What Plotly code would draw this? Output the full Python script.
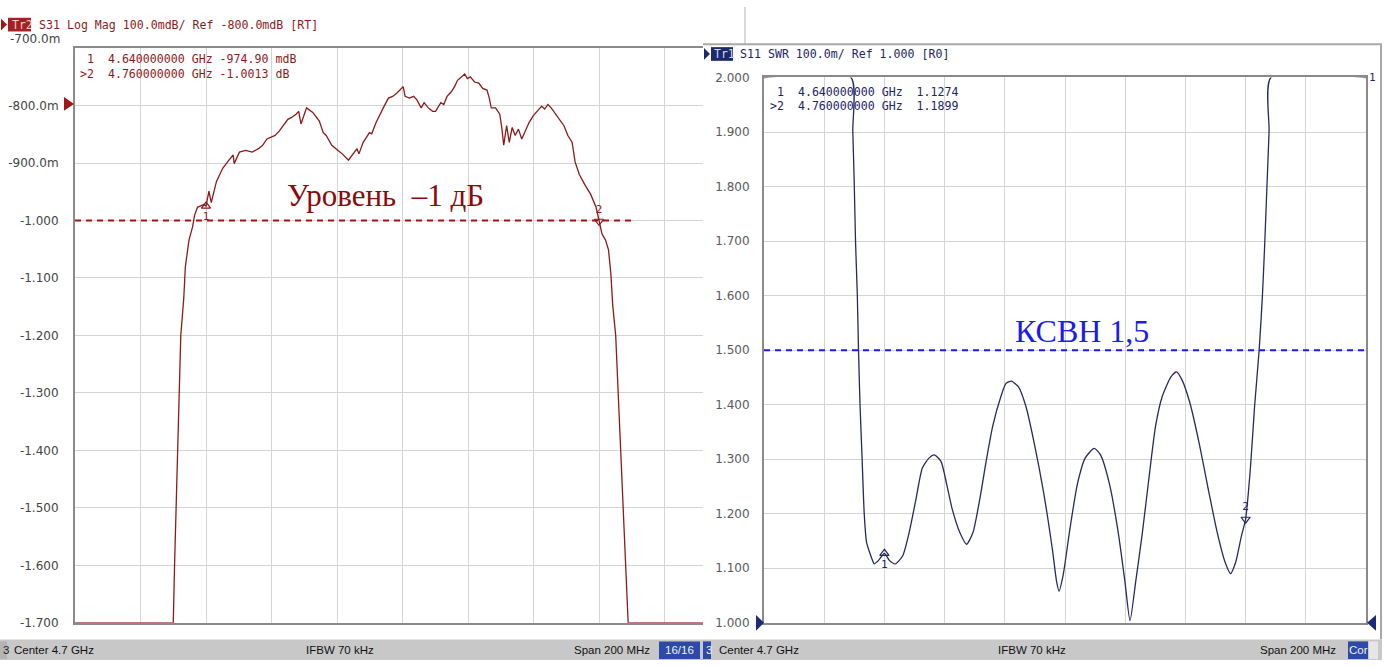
import plotly.graph_objects as go

# ---------------- data ----------------
# S31 transmission, Log Mag (dB) vs frequency (MHz)
s31_freq_mhz = [
    4600.0, 4630.0, 4630.4, 4630.9, 4631.3, 4631.8, 4632.3, 4633.2, 4633.7,
    4634.8, 4635.9, 4636.5, 4637.4, 4639.3, 4640.0, 4640.9, 4641.6, 4643.2, 4645.1,
    4647.0, 4648.3, 4648.6, 4650.2, 4652.1, 4654.1, 4656.0, 4657.3, 4658.6, 4661.1,
    4662.4, 4663.7, 4665.0, 4666.0, 4667.5, 4668.3, 4669.0, 4670.7, 4672.6, 4674.6,
    4675.8, 4676.7, 4678.4, 4680.3, 4681.6, 4683.5, 4685.5, 4686.1, 4686.7, 4688.0,
    4689.9, 4690.6, 4691.9, 4693.1, 4694.4, 4695.7, 4697.0, 4698.3, 4699.3, 4700.2,
    4700.8, 4702.1, 4703.4, 4704.4, 4705.7, 4706.6, 4707.9, 4709.2, 4710.1, 4711.7,
    4712.6, 4713.6, 4714.9, 4715.9, 4716.8, 4718.1, 4719.0, 4719.8, 4720.7, 4722.0,
    4723.3, 4724.5, 4725.8, 4726.5, 4727.1, 4728.4, 4729.7, 4730.3, 4730.9, 4731.8,
    4732.6, 4733.5, 4734.4, 4735.4, 4736.4, 4737.3, 4738.6, 4739.9, 4741.2, 4742.5,
    4743.4, 4744.4, 4745.4, 4746.7, 4748.2, 4749.3, 4750.5, 4751.8, 4752.7, 4754.0,
    4755.7, 4757.5, 4759.1, 4760.0, 4760.9, 4762.0, 4762.9, 4763.6, 4764.2,
    4765.1, 4765.9, 4766.7, 4767.5, 4768.1, 4768.9, 4800.0,
]
s31_db = [
    -1.700, -1.700, -1.600, -1.500, -1.400, -1.300, -1.200, -1.136, -1.080,
    -1.034, -1.011, -0.991, -0.977, -0.972, -0.975, -0.949, -0.969, -0.932, -0.909,
    -0.895, -0.886, -0.901, -0.881, -0.878, -0.881, -0.875, -0.869, -0.858, -0.852,
    -0.844, -0.835, -0.824, -0.821, -0.815, -0.810, -0.832, -0.804, -0.812, -0.827,
    -0.847, -0.852, -0.869, -0.878, -0.884, -0.895, -0.881, -0.875, -0.884, -0.864,
    -0.847, -0.849, -0.830, -0.815, -0.801, -0.787, -0.784, -0.778, -0.773, -0.767,
    -0.784, -0.787, -0.784, -0.790, -0.804, -0.795, -0.804, -0.810, -0.810, -0.795,
    -0.798, -0.784, -0.776, -0.767, -0.756, -0.750, -0.745, -0.753, -0.750, -0.759,
    -0.761, -0.770, -0.773, -0.787, -0.804, -0.804, -0.815, -0.838, -0.869, -0.835,
    -0.864, -0.838, -0.852, -0.841, -0.858, -0.847, -0.830, -0.818, -0.810, -0.801,
    -0.806, -0.798, -0.804, -0.815, -0.827, -0.835, -0.852, -0.864, -0.898, -0.920,
    -0.938, -0.955, -0.977, -1.0013, -1.023, -1.034, -1.051, -1.091, -1.148,
    -1.200, -1.300, -1.400, -1.500, -1.600, -1.700, -1.700,
]

# S11 standing wave ratio vs frequency (MHz)
s11_freq_mhz = [
    4600.0, 4628.9, 4629.5, 4630.0, 4630.4, 4631.0, 4631.4, 4631.9, 4632.6,
    4633.3, 4634.1, 4636.3, 4636.6, 4638.0, 4640.0, 4641.7, 4643.6, 4646.1, 4648.2,
    4650.4, 4652.6, 4654.8, 4656.6, 4658.8, 4660.7, 4662.6, 4665.1, 4667.3, 4669.4,
    4671.6, 4673.8, 4676.0, 4678.7, 4680.4, 4682.2, 4684.5, 4687.0, 4689.9, 4692.8,
    4695.8, 4697.2, 4698.0, 4699.4, 4701.6, 4704.1, 4706.7, 4709.7, 4711.8, 4714.8,
    4717.7, 4719.9, 4721.6, 4723.5, 4725.7, 4727.9, 4730.1, 4732.3, 4735.2, 4737.0,
    4738.9, 4741.5, 4744.7, 4747.7, 4750.6, 4753.2, 4755.0, 4756.7, 4758.6, 4760.0,
    4761.6, 4763.0, 4764.5, 4765.6, 4766.4, 4767.1, 4767.8, 4768.4, 4800.0,
]
s11_swr = [
    2.000, 2.000, 1.902, 1.802, 1.701, 1.601, 1.500, 1.400, 1.300,
    1.200, 1.147, 1.111, 1.108, 1.114, 1.1274, 1.114, 1.108, 1.123, 1.165,
    1.224, 1.284, 1.302, 1.308, 1.296, 1.254, 1.207, 1.165, 1.144, 1.165,
    1.224, 1.296, 1.361, 1.415, 1.439, 1.443, 1.433, 1.397, 1.326, 1.242,
    1.135, 1.076, 1.058, 1.088, 1.171, 1.254, 1.302, 1.320, 1.308, 1.254,
    1.165, 1.076, 1.004, 1.076, 1.165, 1.266, 1.361, 1.415, 1.451, 1.460,
    1.445, 1.403, 1.326, 1.242, 1.165, 1.111, 1.090, 1.111, 1.159, 1.1899,
    1.284, 1.398, 1.500, 1.601, 1.701, 1.802, 1.902, 2.000, 2.000,
]

# marker readouts
marker_freq_mhz = [4640.0, 4760.0]
marker_s31_db = [-0.9749, -1.0013]
marker_swr = [1.1274, 1.1899]

# reference levels drawn as dashed lines
s31_level_db = -1.0
swr_level = 1.5

# tick values / labels
s31_ticks = [-1.7, -1.6, -1.5, -1.4, -1.3, -1.2, -1.1, -1.0, -0.9, -0.8, -0.7]
s31_ticktext = ["-1.700", "-1.600", "-1.500", "-1.400", "-1.300", "-1.200",
                "-1.100", "-1.000", "-900.0m", "-800.0m", ""]
swr_ticks = [1.0, 1.1, 1.2, 1.3, 1.4, 1.5, 1.6, 1.7, 1.8, 1.9, 2.0]
swr_ticktext = ["1.000", "1.100", "1.200", "1.300", "1.400", "1.500",
                "1.600", "1.700", "1.800", "1.900", "2.000"]
freq_grid = [4600, 4620, 4640, 4660, 4680, 4700, 4720, 4740, 4760, 4780, 4800]

# ---------------- geometry helpers (pixels -> paper) ----------------
W, H = 1387, 667


def px(x):
    return x / W


def py(y):
    return 1 - y / H


RED = "#8B1A1A"
RED_TXT = "#8E1B1B"
NAVY = "#262A5C"
NAVY_TXT = "#1E2566"
GRID = "#D4D4D4"
AXIS = "#8A8A8A"
MONO = "DejaVu Sans Mono"

fig = go.Figure()

# ---------------- traces ----------------
fig.add_trace(go.Scatter(
    x=s31_freq_mhz, y=s31_db, mode="lines", xaxis="x", yaxis="y",
    line=dict(color=RED, width=1.3), hoverinfo="skip", showlegend=False))

fig.add_trace(go.Scatter(
    x=s11_freq_mhz, y=s11_swr, mode="lines", xaxis="x2", yaxis="y2",
    line=dict(color=NAVY, width=1.3, shape="spline", smoothing=0.6),
    hoverinfo="skip", showlegend=False))

# dashed level lines
fig.add_trace(go.Scatter(
    x=[4600.0, 4770.0], y=[s31_level_db, s31_level_db], mode="lines",
    xaxis="x", yaxis="y",
    line=dict(color="#A01414", width=2, dash="6px,5px"),
    hoverinfo="skip", showlegend=False))
fig.add_trace(go.Scatter(
    x=[4600.0, 4800.0], y=[swr_level, swr_level], mode="lines",
    xaxis="x2", yaxis="y2",
    line=dict(color="#1A1AF0", width=2, dash="6px,5px"),
    hoverinfo="skip", showlegend=False))

# markers on the traces
fig.add_trace(go.Scatter(
    x=[marker_freq_mhz[0]], y=[marker_s31_db[0]], mode="markers+text",
    xaxis="x", yaxis="y", text=["1"], textposition="bottom center",
    textfont=dict(family=MONO, size=11, color=RED_TXT),
    marker=dict(symbol="triangle-up-open", size=8, color=RED, line=dict(width=1.2)),
    hoverinfo="skip", showlegend=False))
fig.add_trace(go.Scatter(
    x=[marker_freq_mhz[1]], y=[marker_s31_db[1]], mode="markers+text",
    xaxis="x", yaxis="y", text=["2"], textposition="top center",
    textfont=dict(family=MONO, size=11, color=RED_TXT),
    marker=dict(symbol="triangle-down-open", size=8, color=RED, line=dict(width=1.2)),
    hoverinfo="skip", showlegend=False))
fig.add_trace(go.Scatter(
    x=[marker_freq_mhz[0]], y=[marker_swr[0]], mode="markers+text",
    xaxis="x2", yaxis="y2", text=["1"], textposition="bottom center",
    textfont=dict(family=MONO, size=11, color=NAVY_TXT),
    marker=dict(symbol="triangle-up-open", size=8, color=NAVY, line=dict(width=1.2)),
    hoverinfo="skip", showlegend=False))
fig.add_trace(go.Scatter(
    x=[marker_freq_mhz[1]], y=[marker_swr[1]], mode="markers+text",
    xaxis="x2", yaxis="y2", text=["2"], textposition="top center",
    textfont=dict(family=MONO, size=11, color=NAVY_TXT),
    marker=dict(symbol="triangle-down-open", size=8, color=NAVY, line=dict(width=1.2)),
    hoverinfo="skip", showlegend=False))

# marker indicators under the frequency axis
fig.add_trace(go.Scatter(
    x=marker_freq_mhz, y=[s31_ticks[0] - 0.011] * 2, mode="markers",
    xaxis="x", yaxis="y", cliponaxis=False,
    marker=dict(symbol=["triangle-up", "triangle-up"], size=12,
                color=["white", RED], line=dict(color=RED, width=1.2)),
    hoverinfo="skip", showlegend=False))
fig.add_trace(go.Scatter(
    x=marker_freq_mhz, y=[swr_ticks[0] - 0.0115] * 2, mode="markers",
    xaxis="x2", yaxis="y2", cliponaxis=False,
    marker=dict(symbol=["triangle-up", "triangle-up"], size=12,
                color=["white", "#1C2A7A"], line=dict(color="#1C2A7A", width=1.2)),
    hoverinfo="skip", showlegend=False))

# ---------------- axes ----------------
L_LEFT, L_RIGHT, L_TOP, L_BOT = 75, 703, 42, 629
R_LEFT, R_RIGHT, R_TOP, R_BOT = 764, 1366, 72, 629
div_px_left = 65.5
x_left_end = 4600 + (L_RIGHT - L_LEFT) / div_px_left * 20

tickfont_l = dict(family="DejaVu Sans", size=12, color="#444444")
tickfont_r = dict(family="DejaVu Sans", size=12, color="#5A5A5A")

fig.update_layout(
    width=W, height=H, margin=dict(l=0, r=0, t=0, b=0),
    paper_bgcolor="white", plot_bgcolor="white", showlegend=False,
    xaxis=dict(domain=[px(L_LEFT), px(L_RIGHT)], range=[4600, x_left_end],
               anchor="y", tickmode="array", tickvals=freq_grid,
               showticklabels=False, ticks="", showgrid=True,
               gridcolor=GRID, gridwidth=1, zeroline=False,
               showline=True, linecolor=AXIS, linewidth=2, mirror=True),
    yaxis=dict(domain=[py(L_BOT), py(L_TOP)], range=[-1.7, -0.7], anchor="x",
               tickmode="array", tickvals=s31_ticks, ticktext=s31_ticktext,
               tickfont=tickfont_l, ticks="", ticklabelstandoff=12,
               showgrid=True, gridcolor=GRID, gridwidth=1, zeroline=False,
               showline=True, linecolor=AXIS, linewidth=2, mirror=False),
    xaxis2=dict(domain=[px(R_LEFT), px(R_RIGHT)], range=[4600, 4800],
                anchor="y2", tickmode="array", tickvals=freq_grid,
                showticklabels=False, ticks="", showgrid=True,
                gridcolor=GRID, gridwidth=1, zeroline=False,
                showline=True, linecolor=AXIS, linewidth=2, mirror=True),
    yaxis2=dict(domain=[py(R_BOT), py(R_TOP)], range=[1.0, 2.0], anchor="x2",
                tickmode="array", tickvals=swr_ticks, ticktext=swr_ticktext,
                tickfont=tickfont_r, ticks="", ticklabelstandoff=10,
                showgrid=True, gridcolor=GRID, gridwidth=1, zeroline=False,
                showline=True, linecolor=AXIS, linewidth=2, mirror=True),
)

# ---------------- decorations (shapes) ----------------
shapes = []


def rect(x0, y0, x1, y1, fill, line=None):
    shapes.append(dict(type="rect", xref="paper", yref="paper",
                       x0=px(x0), x1=px(x1), y0=py(y1), y1=py(y0),
                       fillcolor=fill, line=dict(width=0) if line is None else line,
                       layer="above"))


def tri(points, fill):
    path = "M " + " L ".join(f"{px(a)},{py(b)}" for a, b in points) + " Z"
    shapes.append(dict(type="path", xref="paper", yref="paper", path=path,
                       fillcolor=fill, line=dict(width=0), layer="above"))


def hline(x0, x1, y, color, width):
    shapes.append(dict(type="line", xref="paper", yref="paper",
                       x0=px(x0), x1=px(x1), y0=py(y), y1=py(y),
                       line=dict(color=color, width=width), layer="above"))


def vline(x, y0, y1, color, width):
    shapes.append(dict(type="line", xref="paper", yref="paper",
                       x0=px(x), x1=px(x), y0=py(y0), y1=py(y1),
                       line=dict(color=color, width=width), layer="above"))


# window frame of the second analyser screen
hline(703, 1382, 38, "#A8A8A8", 2)
vline(1381, 38, 646, "#A8A8A8", 2)
vline(745, 0, 38, "#B0B0B0", 1)

# header tags
tri([(1, 12), (7, 18), (1, 24)], "#A01818")
rect(8, 11, 31, 25, "#A52020")
tri([(704, 42), (710, 48), (704, 54)], "#1C2A6B")
rect(711, 41, 733, 55, "#1C2A6B")

# reference level arrows
tri([(64, 92), (74, 99), (64, 106)], "#A01818")
tri([(756, 621), (764, 629), (756, 637)], "#1C2A7A")
tri([(1376, 621), (1367, 629), (1376, 637)], "#1C2A7A")

# status bars
rect(0, 646, 703, 667, "#C8C8C8")
rect(0, 648, 7, 666, "#B4B4B4")
rect(659, 648, 700, 666, "#2E4AA8")
rect(703, 646, 1382, 667, "#C8C8C8")
rect(703, 648, 711, 666, "#2E4AA8")
rect(1348, 648, 1368, 666, "#2E4AA8")
rect(1369, 648, 1378, 666, "#E6E6E6")
fig.update_layout(shapes=shapes)

# ---------------- text ----------------
ann = []


def text(x, y, s, color, size=12, family=MONO, xanchor="left", **kw):
    ann.append(dict(xref="paper", yref="paper", x=px(x), y=py(y), text=s,
                    showarrow=False, xanchor=xanchor, yanchor="middle",
                    font=dict(family=family, size=size, color=color), **kw))


# headers
text(10, 18, "Tr2", "#F0D0D0", size=11.5)
text(37, 18, "S31 Log Mag 100.0mdB/ Ref -800.0mdB [RT]", RED_TXT, size=11.6)
text(712, 48, "Tr1", "#D0D8F4", size=11.5)
text(738, 48, "S11 SWR 100.0m/ Ref 1.000 [R0]", NAVY_TXT, size=11.6)

# top tick label of the left panel sits above its grid line
text(62, 33, "-700.0m", "#444444", size=12, family="DejaVu Sans", xanchor="right")

# marker tables
text(78, 53, "&nbsp;1&nbsp;&nbsp;4.640000000 GHz -974.90 mdB", RED_TXT, size=11.6)
text(78, 68, "&gt;2&nbsp;&nbsp;4.760000000 GHz -1.0013 dB", RED_TXT, size=11.6)
text(768, 87, "&nbsp;1&nbsp;&nbsp;4.640000000 GHz&nbsp;&nbsp;1.1274", NAVY_TXT, size=11.6)
text(768, 101, "&gt;2&nbsp;&nbsp;4.760000000 GHz&nbsp;&nbsp;1.1899", NAVY_TXT, size=11.6)
text(1367, 72, "1", NAVY_TXT, size=11, family=MONO)

# level captions
text(385, 193, "Уровень &nbsp;–1 дБ", "#8C0A0A", size=31,
     family="Liberation Serif", xanchor="center")
text(1082, 331, "КСВН 1,5", "#1A1AF5", size=32,
     family="Liberation Serif", xanchor="center")

# status bar text
SB = dict(family="Liberation Sans", size=11.5)
text(1, 657, "3", "#202020", **SB)
text(12, 657, "Center 4.7 GHz", "#111111", **SB)
text(340, 657, "IFBW 70 kHz", "#111111", xanchor="center", **SB)
text(652, 657, "Span 200 MHz", "#111111", xanchor="right", **SB)
text(679, 657, "16/16", "#F0F0F0", xanchor="center", **SB)
text(704, 657, "3", "#F0F0F0", **SB)
text(717, 657, "Center 4.7 GHz", "#111111", **SB)
text(1032, 657, "IFBW 70 kHz", "#111111", xanchor="center", **SB)
text(1338, 657, "Span 200 MHz", "#111111", xanchor="right", **SB)
text(1358, 657, "Cor", "#F0F0F0", xanchor="center", **SB)

fig.update_layout(annotations=ann)

fig.write_html("out.html")
